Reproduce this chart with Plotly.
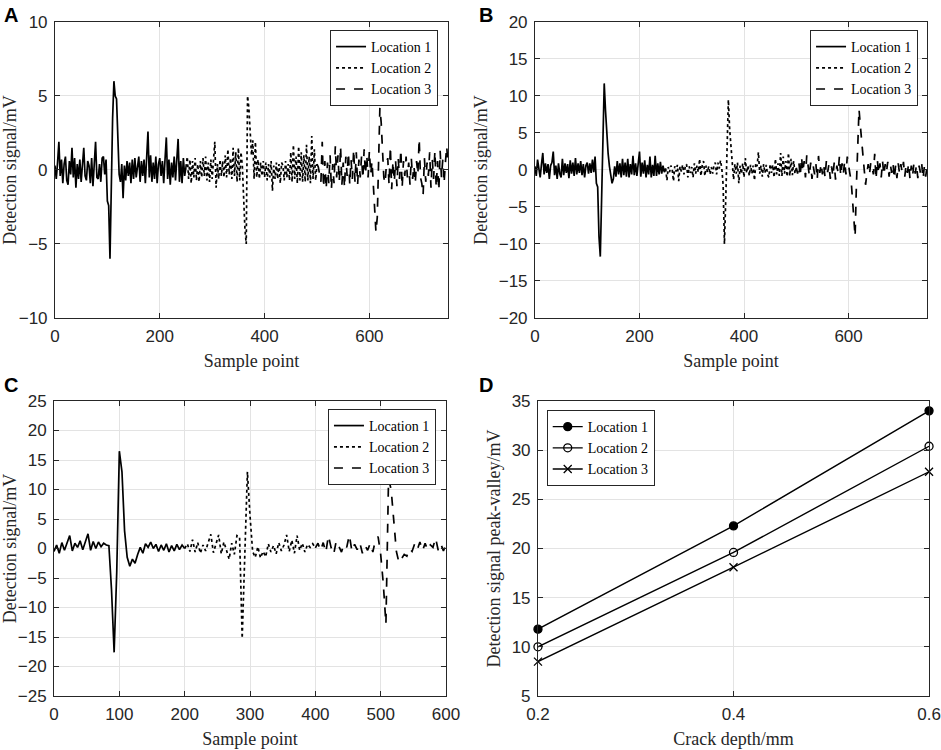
import numpy as np
import plotly.graph_objects as go

# ---- panel A: detection signal at three locations (sample step 2.5) ----
a_loc1 = [0.3, -0.6, 0.5, 1.9, -0.4, 0.7, -0.9, 0.4, 0.9, -0.7,
          -1.0, 0.6, -0.3, 1.5, -0.5, 0.8, -1.2, 0.4, -0.6, 0.7,
          -0.8, 0.5, 1.5, -0.4, -0.7, 0.6, 0.3, -0.9, 0.8, -1.1,
          0.5, 1.9, -0.5, -0.6, 0.4, -0.8, 0.8, 0.9, -0.3, 0.7,
          -2.1, -2.4, -6.0, -1.0, 3.5, 6.0, 5.0, 4.8, 1.5, -0.3,
          -0.8, 0.4, -1.9, 0.3, -0.7, 0.6, -0.4, 0.5, -0.9, 0.7,
          -0.6, 0.8, -0.5, 0.4, 0.9, -0.8, 0.6, -0.4, 0.7, -0.9,
          0.5, 2.6, -0.5, 1.0, -0.8, 0.5, -0.6, 0.9, -0.9, 0.4,
          0.8, -0.4, 0.6, -0.9, 0.7, 2.2, -0.6, 0.7, -1.0, 0.5,
          -0.5, 0.9, -0.7, 0.4, 2.1, -0.8, 0.6, -0.9, 0.8, -0.4,
          0.2]
a_loc2 = [0.2, 0.9, -0.6, 0.7, -0.9, 0.6, -0.5, 0.8, -0.7, 0.4,
          -0.8, 0.6, -0.5, 0.8, -0.4, 0.9, -0.7, 0.5, -0.8, 0.7,
          -0.6, 0.5, 1.9, -1.2, 0.4, -0.6, 0.7, -0.4, 0.6, -0.5,
          1.0, -0.5, 1.4, -0.3, 0.8, -0.6, 1.5, -0.4, 1.2, -0.8,
          1.5, -0.7, 1.2, 0.3, -2.5, -4.0, -5.0, 5.0, 4.2, 2.0,
          1.0, 2.0, -0.6, 1.9, -0.5, 0.7, -0.6, 0.5, -0.4, 0.6,
          -0.5, 0.5, -0.7, 0.4, -0.5, 0.6, -1.4, 0.3, -0.6, 0.5,
          -0.6, 0.4, -0.9, 0.5, 0.3, -0.7, 0.6, -0.5, 0.4, -0.7,
          1.2, -0.8, 1.7, -0.6, 0.9, -0.9, 1.6, -0.7, 1.2, -0.8,
          1.0, -0.8, 1.7, -0.7, 0.9, -0.9, 2.3, -0.6, 1.4, -0.7,
          0.4]
a_loc3 = [0.4, 0.2, -0.3, -0.8, 1.9, -1.2, 0.6, -1.3, 0.5, -0.9,
          1.0, -1.3, 0.4, -0.9, 1.6, -0.5, 1.0, -0.8, 1.6, -1.0,
          0.5, -1.2, 0.9, -0.4, 1.2, -1.0, 0.7, -0.6, 1.4, -0.8,
          1.2, -1.0, 0.7, -0.5, 0.9, -0.6, 1.4, -0.3, 1.0, -0.5,
          1.3, -0.3, 0.6, -1.0, -3.0, -4.2, -3.2, 1.0, 4.2, 3.2,
          1.5, -0.5, -0.9, 0.4, 0.8, -1.0, 1.6, -1.3, 0.6, -0.8,
          0.6, -1.1, 0.8, -0.6, 1.4, -1.2, 0.6, -0.4, 0.9, -0.5,
          0.5, -1.0, 0.8, -0.6, 0.3, -0.9, 0.6, -0.3, 2.1, -0.5,
          -0.9, -1.7, 0.8, -0.8, 0.5, -0.4, 1.2, -1.2, 0.7, -0.6,
          1.3, -1.2, 0.6, -1.4, 1.3, -0.5, 0.7, -0.9, 0.5, 1.6,
          0.3]

# ---- panel B (sample step 2.5) ----
b_loc1 = [0.5, -0.8, 1.4, 0.3, -1.0, 0.8, 2.3, -0.6, 0.9, -0.4,
          0.8, -1.2, 0.6, 1.0, 2.5, -0.7, 0.6, -1.2, 0.9, -0.5,
          -1.0, 1.5, -0.7, 0.9, -0.4, 0.8, -1.1, 1.3, -0.5, 1.0,
          -0.8, 1.6, -0.6, 0.9, -0.4, 1.2, -0.7, 0.8, -1.0, 0.6,
          1.0, -0.5, 0.9, -0.4, 1.4, -0.3, 1.8, -1.8, -2.3, -9.0,
          -11.7, -4.0, 4.0, 11.7, 8.0, 4.0, 2.2, 0.5, -1.0, -1.8,
          -1.2, 0.5, -0.9, 1.2, -0.6, 0.9, -1.0, 1.5, -0.7, 1.0,
          -0.9, 1.5, -1.0, 0.8, -0.6, 1.9, -0.7, 0.9, -0.8, 1.2,
          2.5, -0.9, 1.0, -0.5, 1.3, -1.0, 0.7, -0.6, 1.8, -1.0,
          0.7, -0.8, 1.9, -0.8, 0.9, -0.6, 1.1, -0.5, 0.6, -0.3,
          0.2]
b_loc2 = [0.2, -1.4, 0.4, -0.3, 0.6, 0.1, -1.5, 0.5, -0.2, 0.7,
          -1.5, 0.5, -0.2, 0.7, -0.6, 0.4, 0.8, -1.0, 0.5, -0.4,
          0.4, -1.0, 0.9, -0.5, 0.6, -0.3, 1.5, -0.8, 0.6, 1.2,
          -0.8, 0.6, -0.3, 0.5, -0.6, 0.4, -0.5, 0.6, 1.0, -0.6,
          1.0, 0.2, 1.3, 0.2, -2.0, -10.0, -4.0, 4.0, 9.5, 5.5,
          3.0, 1.5, -1.3, 0.8, -0.5, 1.0, -1.8, 0.6, -0.5, 0.9,
          -1.0, 1.6, -0.4, 0.6, -0.8, 0.7, -0.5, 0.6, -1.4, 0.9,
          0.5, 2.4, -0.5, 0.6, -0.9, 0.8, -0.4, 0.7, -0.6, -1.0,
          0.8, -0.4, 0.7, -1.0, 1.5, -0.6, 0.9, -0.8, 2.3, -0.8,
          1.8, -0.5, 1.2, -0.9, 2.3, -0.8, 1.5, -0.7, 1.2, -0.5,
          0.3]
b_loc3 = [0.3, -0.5, 1.0, -0.9, 1.8, -0.3, 1.2, -1.0, 2.0, 0.4,
          -0.8, 1.0, -1.2, 0.5, -0.6, 0.8, -1.3, 1.9, -0.4, 0.9,
          -0.6, 0.7, -1.0, 1.2, -0.3, 0.8, -1.2, 0.5, -0.9, 1.0,
          -1.3, 0.6, -0.4, 1.9, -0.8, 0.9, -0.5, 1.2, -0.6, 1.8,
          0.9, -0.5, -1.5, -4.0, -6.0, -9.0, -2.0, 3.0, 8.2, 6.0,
          4.0, 1.5, 0.3, -2.0, -0.5, 0.8, -0.6, 1.0, 0.4, -0.6,
          2.2, -1.3, 1.4, -0.5, 0.9, -1.0, 1.2, -0.7, 0.8, -0.3,
          1.1, -0.9, 0.7, -0.4, 0.9, -1.2, 0.6, -1.1, 0.9, -0.5,
          0.8, -0.3, 1.1, -0.9, 0.7, -0.4, 0.9, -1.2, 0.6, -0.8,
          0.9, -0.5, 0.7, -1.1, 0.6, -0.4, 0.8, -1.2, 0.5, -0.9,
          0.4]

# ---- panel C (sample step 4) ----
c_loc1 = [-0.5, 0.6, -0.8, 1.0, -0.3, 0.8, 2.2, -0.4, 0.9, 0.2,
          1.3, -0.2, 1.0, 2.5, -0.3, 1.2, 0.0, 1.1, 0.3, 0.9,
          0.6, 0.5, -7.0, -17.6, -4.0, 16.5, 13.0, 3.0, -1.5, -3.0,
          -1.8, -2.5, -1.0, 0.2, -0.8, 0.8, 0.2, 1.1, 0.0, 0.7,
          -0.5, 0.6, -0.3, 0.8, -0.6, 0.5, -0.4, 0.7, -0.2, 0.6, 0.0]
c_loc2 = [0.0, 0.8, -0.5, 1.5, -0.6, 1.0, -0.8, 0.6, -0.4, 1.2,
          2.4, -0.7, 0.8, 2.3, -0.9, 1.1, -0.3, -1.8, 0.9, -1.0,
          2.2, 2.0, -15.2, 1.0, 13.0, 5.5, -0.5, -1.5, 0.3, -1.6,
          -0.5, -1.4, 0.8, -0.6, 0.5, -0.9, 1.0, -0.4, 0.6, 2.3,
          -0.5, 1.4, -0.8, 2.2, -0.3, 0.9, -0.6, 0.7, 0.2, 0.8, 0.1]
c_loc3 = [0.1, 0.9, -0.4, 1.0, -0.7, 2.2, 0.2, -1.0, 1.3, 0.3,
          -0.6, 0.8, 0.2, 2.3, -0.5, 0.7, -0.2, 1.0, -0.8, 0.5,
          -0.3, 0.9, -0.6, 1.5, 2.0, -1.0, -6.0, -12.8, 11.8, 10.0,
          5.0, -0.5, -2.4, -1.8, -1.0, -1.3, 0.0, -0.5, 0.8, -0.2,
          1.1, -0.4, 0.9, -0.3, 0.6, 0.2, 1.8, -0.3, 0.8, -0.4, 0.7]

# ---- panel D: peak-valley vs crack depth ----
depth = [0.2, 0.4, 0.6]
pv_loc1 = [11.8, 22.3, 34.0]
pv_loc2 = [10.0, 19.6, 30.4]
pv_loc3 = [8.5, 18.1, 27.8]

names = ["Location 1", "Location 2", "Location 3"]
dashes = ["solid", "dot", "dash"]

fig = go.Figure()

panels = [
    ("x", "y", "legend", 2.5, [a_loc1, a_loc2, a_loc3], 250),
    ("x2", "y2", "legend2", 2.5, [b_loc1, b_loc2, b_loc3], 250),
    ("x3", "y3", "legend3", 4, [c_loc1, c_loc2, c_loc3], 200),
]
for xa, ya, lg, step, series, seg in panels:
    for i, vals in enumerate(series):
        xs = i * seg + step * np.arange(len(vals))
        fig.add_trace(go.Scatter(
            x=xs, y=vals, mode="lines", name=names[i],
            line=dict(color="black", width=1.7, dash=dashes[i]),
            xaxis=xa, yaxis=ya, legend=lg))

symbols = ["circle", "circle-open", "x-thin-open"]
for i, vals in enumerate([pv_loc1, pv_loc2, pv_loc3]):
    fig.add_trace(go.Scatter(
        x=depth, y=vals, mode="lines+markers", name=names[i],
        line=dict(color="black", width=1.4), cliponaxis=False,
        marker=dict(symbol=symbols[i], size=8, color="black",
                    line=dict(color="black", width=1.3)),
        xaxis="x4", yaxis="y4", legend="legend4"))

tickfont = dict(family="Liberation Sans", size=17, color="#262626")
titlefont = dict(family="Liberation Serif", size=18, color="#262626")
ax_common = dict(showline=True, linecolor="#262626", linewidth=1, mirror="ticks",
                 ticks="inside", ticklen=5, tickcolor="#262626",
                 showgrid=True, gridcolor="#e3e3e3", gridwidth=1,
                 zeroline=False, tickfont=tickfont, title_font=titlefont,
                 automargin=False, ticklabelstandoff=3)

legend_common = dict(font=dict(family="Liberation Serif", size=14, color="black"),
                     bgcolor="white", bordercolor="#262626", borderwidth=1,
                     tracegroupgap=0, itemwidth=30)

fig.update_layout(
    width=941, height=750,
    margin=dict(l=0, r=0, t=0, b=0),
    paper_bgcolor="white", plot_bgcolor="white",
    xaxis=dict(ax_common, domain=[0.0584, 0.4761], range=[0, 750], dtick=200,
               anchor="y", title=dict(text="Sample point", standoff=8)),
    yaxis=dict(ax_common, domain=[0.576, 0.9707], range=[-10, 10], dtick=5,
               anchor="x", title=dict(text="Detection signal/mV", standoff=6)),
    xaxis2=dict(ax_common, domain=[0.5685, 0.9851], range=[0, 750], dtick=200,
                anchor="y2", title=dict(text="Sample point", standoff=8)),
    yaxis2=dict(ax_common, domain=[0.576, 0.9707], range=[-20, 20], dtick=5,
                anchor="x2", title=dict(text="Detection signal/mV", standoff=6)),
    xaxis3=dict(ax_common, domain=[0.0574, 0.474], range=[0, 600], dtick=100,
                anchor="y3", title=dict(text="Sample point", standoff=8)),
    yaxis3=dict(ax_common, domain=[0.072, 0.4653], range=[-25, 25], dtick=5,
                anchor="x3", title=dict(text="Detection signal/mV", standoff=6)),
    xaxis4=dict(ax_common, domain=[0.5717, 0.9873], range=[0.2, 0.6],
                tickvals=[0.2, 0.4, 0.6], anchor="y4",
                title=dict(text="Crack depth/mm", standoff=8)),
    yaxis4=dict(ax_common, domain=[0.072, 0.4653], range=[5, 35], dtick=5,
                anchor="x4", title=dict(text="Detection signal peak-valley/mV", standoff=6)),
    legend=dict(legend_common, x=0.4655, y=0.96, xanchor="right", yanchor="top"),
    legend2=dict(legend_common, x=0.9756, y=0.96, xanchor="right", yanchor="top"),
    legend3=dict(legend_common, x=0.4633, y=0.4547, xanchor="right", yanchor="top"),
    legend4=dict(legend_common, x=0.581, y=0.4533, xanchor="left", yanchor="top"),
)

for label, px, py in [("A", 0.002, 0.997), ("B", 0.507, 0.997),
                      ("C", 0.002, 0.504), ("D", 0.507, 0.504)]:
    fig.add_annotation(text="<b>%s</b>" % label, x=px, y=py, xref="paper", yref="paper",
                       xanchor="left", yanchor="top", showarrow=False,
                       font=dict(family="Liberation Sans", size=20, color="black"))

# drop the page's default 8px body margin so the figure sits at the window corner
fig.write_html("out.html", config={"displayModeBar": False},
               post_script="document.body.style.margin = '0';")
